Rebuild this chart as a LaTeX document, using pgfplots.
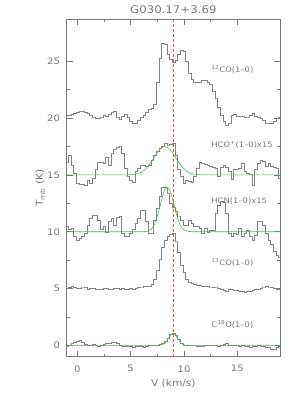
\documentclass[border=0pt]{standalone}
\usepackage{pgfplots}
\pgfplotsset{compat=1.18}
\usepackage{fontspec}
\setmainfont{DejaVu Sans}[FakeStretch=1.12]
\definecolor{axisgray}{RGB}{120,120,120}
\definecolor{specgray}{RGB}{130,130,130}
\definecolor{fitgreen}{RGB}{75,185,85}
\definecolor{vorange}{RGB}{235,90,45}
\begin{document}
\begin{tikzpicture}
\useasboundingbox (-66.7pt,-42.3pt) rectangle (233.3pt,356.7pt);
\begin{axis}[
  at={(0pt,0pt)}, anchor=south west,
  scale only axis, width=213.3pt, height=337.4pt,
  xmin=-1, xmax=19, ymin=-1, ymax=28.7,
  xtick={0,5,10,15}, ytick={0,5,10,15,20,25},
  minor x tick num=1, minor y tick num=1,
  tick align=inside, major tick length=6pt, minor tick length=3pt,
  axis line style={axisgray, line width=0.5pt},
  every tick/.style={axisgray, line width=0.5pt},
  extra x ticks={9},
  extra x tick labels={},
  extra x tick style={grid=major, major tick length=0pt, major grid style={draw=vorange, line width=1pt, dash pattern=on 3pt off 2pt}},
  /pgf/number format/assume math mode=true,
  xticklabel style={text=axisgray, font=\fontsize{9}{10}\selectfont, inner sep=0pt, anchor=north, yshift=-8.5pt},
  yticklabel style={text=axisgray, font=\fontsize{9}{10}\selectfont, inner sep=0pt, anchor=east, xshift=-6.5pt},
  title={G030.17+3.69},
  title style={text=axisgray, font=\fontsize{10.5}{12}\selectfont, at={(axis description cs:0.5,1)}, anchor=base, yshift=-0.7pt, inner sep=0pt},
  xlabel={V (km/s)},
  xlabel style={text=axisgray, font=\fontsize{9.5}{11}\selectfont, at={(axis description cs:0.5,0)}, anchor=base, yshift=-29.5pt, inner sep=0pt},
  ylabel={T\textsubscript{mb} (K)},
  ylabel style={text=axisgray, font=\fontsize{9.5}{11}\selectfont, at={(axis description cs:-0.112,0.5)}, anchor=base, inner sep=0pt},
  clip=true,
  spec/.style={draw=specgray, line width=0.35pt, const plot mark mid, mark=none},
  fit/.style={draw=fitgreen, line width=0.6pt, mark=none},
]
% 12CO(1-0)
\addplot[spec] coordinates {
(-1.0,20.25) (-0.75,20.3) (-0.5,20.35) (-0.25,20.42) (0.0,20.5) (0.25,20.58) (0.5,20.62) (0.75,20.55)
(1.0,20.4) (1.25,20.22) (1.5,20.1) (1.75,19.98) (2.0,20.0) (2.25,20.1) (2.5,20.25) (2.75,20.2)
(3.0,20.35) (3.25,20.55) (3.5,20.65) (3.75,20.1) (4.0,19.95) (4.25,20.15) (4.5,20.35) (4.75,20.1)
(5.0,19.7) (5.25,19.52) (5.5,19.6) (5.75,19.85) (6.0,20.1) (6.25,20.3) (6.5,20.5) (6.75,20.75)
(7.0,20.85) (7.25,21.2) (7.5,23.2) (7.75,25.3) (8.0,26.6) (8.25,26.55) (8.5,25.6) (8.75,25.2)
(9.0,24.95) (9.25,25.1) (9.5,25.6) (9.75,26.0) (10.0,25.9) (10.25,25.0) (10.5,24.0) (10.75,23.4)
(11.0,23.15) (11.25,23.15) (11.5,23.2) (11.75,23.3) (12.0,23.3) (12.25,23.2) (12.5,22.95) (12.75,22.4)
(13.0,21.75) (13.25,21.0) (13.5,20.3) (13.75,19.75) (14.0,19.35) (14.25,19.6) (14.5,20.25) (14.75,20.35)
(15.0,20.2) (15.25,20.15) (15.5,20.2) (15.75,20.05) (16.0,20.1) (16.25,20.3) (16.5,20.4) (16.75,20.2)
(17.0,20.1) (17.25,20.0) (17.5,19.8) (17.75,19.6) (18.0,19.55) (18.25,19.6) (18.5,19.75) (18.75,20.0) (19.0,20.1)
};
% HCO+(1-0)x15
\addplot[spec] coordinates {
(-1.0,16.1) (-0.75,16.75) (-0.5,15.9) (-0.25,15.15) (0.0,14.3) (0.25,14.2) (0.5,14.15) (0.75,14.1)
(1.0,14.55) (1.25,14.25) (1.5,14.7) (1.75,15.5) (2.0,16.15) (2.25,16.1) (2.5,16.0) (2.75,16.6)
(3.0,15.9) (3.25,16.9) (3.5,17.3) (3.75,17.45) (4.0,17.5) (4.25,16.95) (4.5,15.6) (4.75,14.9)
(5.0,14.5) (5.25,14.4) (5.5,15.3) (5.75,15.6) (6.0,15.85) (6.25,15.9) (6.5,15.8) (6.75,15.85)
(7.0,16.3) (7.25,16.7) (7.5,17.1) (7.75,17.35) (8.0,17.5) (8.25,17.78) (8.5,17.65) (8.75,17.7)
(9.0,17.78) (9.25,16.75) (9.5,15.5) (9.75,14.85) (10.0,14.26) (10.25,14.5) (10.5,14.45) (10.75,14.4)
(11.0,14.85) (11.25,15.6) (11.5,16.15) (11.75,16.05) (12.0,15.95) (12.25,15.85) (12.5,15.75) (12.75,15.65)
(13.0,15.6) (13.25,14.9) (13.5,15.7) (13.75,15.9) (14.0,15.7) (14.25,15.35) (14.5,14.6) (14.75,15.55)
(15.0,15.55) (15.25,15.6) (15.5,16.0) (15.75,15.3) (16.0,15.15) (16.25,15.1) (16.5,14.12) (16.75,15.5)
(17.0,16.0) (17.25,16.3) (17.5,16.2) (17.75,15.75) (18.0,16.0) (18.25,15.8) (18.5,15.7) (18.75,15.6) (19.0,14.7)
};
% HCN(1-0)x15
\addplot[spec] coordinates {
(-1.0,10.45) (-0.75,10.2) (-0.5,10.3) (-0.25,9.6) (0.0,9.3) (0.25,9.4) (0.5,9.6) (0.75,9.85)
(1.0,10.6) (1.25,11.2) (1.5,11.5) (1.75,11.5) (2.0,11.05) (2.25,10.2) (2.5,10.45) (2.75,10.0)
(3.0,10.9) (3.25,11.2) (3.5,10.6) (3.75,11.25) (4.0,11.35) (4.25,9.87) (4.5,9.6) (4.75,9.6)
(5.0,9.9) (5.25,10.2) (5.5,10.75) (5.75,11.2) (6.0,11.9) (6.25,11.9) (6.5,10.9) (6.75,9.9)
(7.0,9.9) (7.25,11.0) (7.5,12.07) (7.75,13.1) (8.0,13.9) (8.25,13.95) (8.5,13.4) (8.75,12.5)
(9.0,12.2) (9.25,11.8) (9.5,11.4) (9.75,11.0) (10.0,10.6) (10.25,10.6) (10.5,11.05) (10.75,10.75)
(11.0,10.5) (11.25,10.45) (11.5,10.3) (11.75,9.87) (12.0,10.3) (12.25,10.0) (12.5,10.15) (12.75,10.15)
(13.0,11.6) (13.25,12.35) (13.5,12.65) (13.75,12.6) (14.0,11.6) (14.25,9.9) (14.5,9.6) (14.75,9.85)
(15.0,9.75) (15.25,10.3) (15.5,9.6) (15.75,9.9) (16.0,10.15) (16.25,9.6) (16.5,9.3) (16.75,9.7)
(17.0,10.9) (17.25,10.95) (17.5,10.6) (17.75,9.9) (18.0,9.3) (18.25,8.9) (18.5,8.3) (18.75,7.95) (19.0,7.8)
};
% 13CO(1-0)
\addplot[spec] coordinates {
(-1.0,5.05) (-0.75,5.1) (-0.5,5.2) (-0.25,5.1) (0.0,5.0) (0.25,5.05) (0.5,5.15) (0.75,5.1)
(1.0,4.95) (1.25,5.0) (1.5,5.05) (1.75,4.95) (2.0,4.9) (2.25,4.95) (2.5,5.05) (2.75,5.0)
(3.0,4.9) (3.25,4.95) (3.5,5.05) (3.75,5.0) (4.0,4.95) (4.25,5.0) (4.5,4.9) (4.75,4.95)
(5.0,5.0) (5.25,4.95) (5.5,5.0) (5.75,5.1) (6.0,5.15) (6.25,5.2) (6.5,5.2) (6.75,5.25)
(7.0,5.35) (7.25,5.8) (7.5,6.6) (7.75,7.6) (8.0,8.6) (8.25,9.3) (8.5,9.6) (8.75,9.8)
(9.0,9.9) (9.25,9.2) (9.5,8.2) (9.75,7.1) (10.0,6.4) (10.25,5.85) (10.5,5.55) (10.75,5.45)
(11.0,5.35) (11.25,5.3) (11.5,5.3) (11.75,5.25) (12.0,5.2) (12.25,5.2) (12.5,5.15) (12.75,5.1)
(13.0,5.15) (13.25,5.05) (13.5,4.95) (13.75,4.85) (14.0,4.8) (14.25,4.9) (14.5,4.95) (14.75,4.85)
(15.0,4.85) (15.25,4.8) (15.5,4.75) (15.75,4.7) (16.0,4.75) (16.25,4.8) (16.5,4.85) (16.75,4.9)
(17.0,4.95) (17.25,5.05) (17.5,5.15) (17.75,5.2) (18.0,5.15) (18.25,5.1) (18.5,5.05) (18.75,4.95) (19.0,4.9)
};
% C18O(1-0)
\addplot[spec] coordinates {
(-1.0,-0.1) (-0.75,0.05) (-0.5,0.2) (-0.25,0.3) (0.0,0.38) (0.25,0.42) (0.5,0.25) (0.75,0.1)
(1.0,0.0) (1.25,0.05) (1.5,0.08) (1.75,0.0) (2.0,-0.03) (2.25,0.05) (2.5,0.12) (2.75,0.15)
(3.0,0.18) (3.25,0.25) (3.5,0.28) (3.75,0.2) (4.0,0.05) (4.25,-0.05) (4.5,-0.1) (4.75,-0.08)
(5.0,-0.1) (5.25,-0.12) (5.5,-0.08) (5.75,-0.05) (6.0,-0.1) (6.25,-0.12) (6.5,-0.08) (6.75,-0.02)
(7.0,0.0) (7.25,0.02) (7.5,0.05) (7.75,0.1) (8.0,0.15) (8.25,0.35) (8.5,0.65) (8.75,0.95)
(9.0,1.03) (9.25,0.9) (9.5,0.55) (9.75,0.2) (10.0,0.05) (10.25,-0.02) (10.5,0.0) (10.75,0.05)
(11.0,0.02) (11.25,-0.05) (11.5,-0.08) (11.75,-0.05) (12.0,0.0) (12.25,0.05) (12.5,0.02) (12.75,-0.02)
(13.0,0.0) (13.25,-0.05) (13.5,0.0) (13.75,0.1) (14.0,0.15) (14.25,0.05) (14.5,0.0) (14.75,0.05)
(15.0,0.0) (15.25,-0.05) (15.5,0.0) (15.75,-0.05) (16.0,-0.1) (16.25,-0.12) (16.5,-0.1) (16.75,-0.05)
(17.0,0.0) (17.25,-0.05) (17.5,-0.1) (17.75,-0.15) (18.0,-0.12) (18.25,-0.3) (18.5,-0.38) (18.75,-0.2) (19.0,-0.05)
};
% Gaussian fits
\addplot[fit] coordinates {
(-1,15) (4.2,15) (4.7,15.007) (5.2,15.033) (5.45,15.066) (5.7,15.124) (5.95,15.22) (6.2,15.365)
(6.45,15.575) (6.7,15.848) (6.95,16.18) (7.2,16.545) (7.45,16.908) (7.7,17.218) (7.95,17.425) (8.2,17.5)
(8.45,17.425) (8.7,17.218) (8.95,16.908) (9.2,16.545) (9.45,16.18) (9.7,15.848) (9.95,15.575) (10.2,15.365)
(10.45,15.22) (10.7,15.124) (10.95,15.066) (11.2,15.033) (11.7,15.007) (12.2,15) (19,15)
};
\addplot[fit] coordinates {
(-1,10) (6.02,10.003) (6.42,10.026) (6.62,10.067) (6.82,10.157) (7.02,10.335) (7.22,10.644) (7.42,11.122)
(7.62,11.766) (7.82,12.508) (8.02,13.227) (8.22,13.756) (8.42,13.95) (8.62,13.756) (8.82,13.227) (9.02,12.508)
(9.22,11.766) (9.42,11.122) (9.62,10.644) (9.82,10.335) (10.02,10.157) (10.22,10.067) (10.42,10.026) (10.82,10.003) (19,10)
};
\addplot[fit] coordinates {
(-1,0) (7.47,0.002) (7.77,0.017) (7.92,0.045) (8.07,0.103) (8.22,0.207) (8.37,0.367) (8.52,0.574)
(8.67,0.79) (8.82,0.957) (8.97,1.02) (9.12,0.957) (9.27,0.79) (9.42,0.574) (9.57,0.367) (9.72,0.207)
(9.87,0.103) (10.02,0.045) (10.17,0.017) (10.47,0.002) (19,0)
};
% labels
\node[anchor=west, text=axisgray, font=\fontsize{7.5}{9}\selectfont, inner sep=0pt] at (axis cs:12.55,24.3) {\textsuperscript{12}CO(1--0)};
\node[anchor=west, text=axisgray, font=\fontsize{7.5}{9}\selectfont, inner sep=0pt] at (axis cs:12.55,17.66) {HCO\textsuperscript{+}(1--0)x15};
\node[anchor=west, text=axisgray, font=\fontsize{7.5}{9}\selectfont, inner sep=0pt] at (axis cs:12.55,12.7) {HCN(1--0)x15};
\node[anchor=west, text=axisgray, font=\fontsize{7.5}{9}\selectfont, inner sep=0pt] at (axis cs:12.55,7.3) {\textsuperscript{13}CO(1--0)};
\node[anchor=west, text=axisgray, font=\fontsize{7.5}{9}\selectfont, inner sep=0pt] at (axis cs:12.55,1.82) {C\textsuperscript{18}O(1--0)};
\end{axis}
\end{tikzpicture}
\end{document}
